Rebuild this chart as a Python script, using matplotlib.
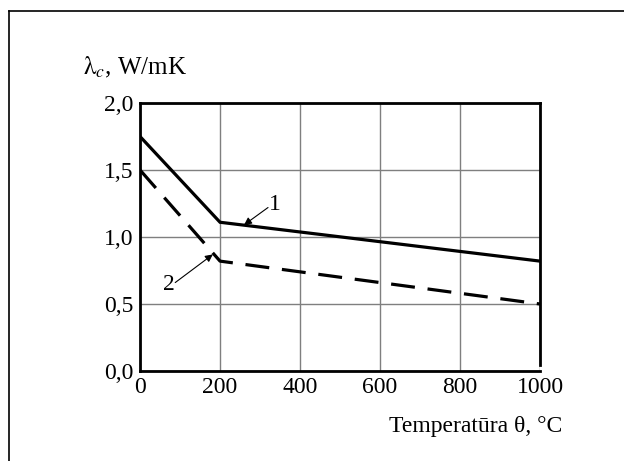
import matplotlib
matplotlib.use("Agg")
import matplotlib.pyplot as plt
from matplotlib.lines import Line2D

# thermal conductivity vs temperature, two bilinear curves
temp = [0, 200, 1000]
curve1 = [1.75, 1.11, 0.82]
curve2 = [1.50, 0.82, 0.50]

x_ticks = [0, 200, 400, 600, 800, 1000]
y_ticks = [0.0, 0.5, 1.0, 1.5, 2.0]
y_tick_labels = ["0,0", "0,5", "1,0", "1,5", "2,0"]

plt.rcParams["font.family"] = ["Liberation Serif", "DejaVu Serif"]
plt.rcParams["mathtext.fontset"] = "stix"

fig = plt.figure(figsize=(6.24, 4.61), dpi=100)
ax = fig.add_axes([0.2244, 0.1952, 0.641, 0.5814])

ax.plot(temp, curve1, color="black", lw=2.3, solid_joinstyle="miter", zorder=3)
ax.plot(temp, curve2, color="black", lw=2.3, dashes=(7.5, 4), zorder=3)

ax.set_xlim(0, 1000)
ax.set_ylim(0, 2.0)
ax.set_xticks(x_ticks)
ax.set_xticklabels([str(t) for t in x_ticks])
ax.set_yticks(y_ticks)
ax.set_yticklabels(y_tick_labels)
ax.tick_params(length=0, labelsize=17, colors="black")
ax.tick_params(axis="x", pad=4)
ax.tick_params(axis="y", pad=5)

ax.grid(True, color="#7f7f7f", lw=1.0)
for side, sp in ax.spines.items():
    sp.set_linewidth(2.0)
    sp.set_color("black")
ax.spines["right"].set_bounds(0.045, 2.0)

# curve labels with pointer arrows
arrow = dict(arrowstyle="-|>", color="black", lw=0.8, mutation_scale=11,
             shrinkA=0, shrinkB=0)
ax.annotate("", xy=(260, 1.09), xytext=(320, 1.22), arrowprops=arrow)
ax.text(337, 1.24, "1", fontsize=17, ha="center", va="center")
ax.annotate("", xy=(182, 0.87), xytext=(88, 0.66), arrowprops=arrow)
ax.text(72, 0.645, "2", fontsize=17, ha="center", va="center")

fig.text(0.133, 0.838, r"$\mathrm{\lambda}_{c}$, W/mK", fontsize=18,
         ha="left", va="baseline")
fig.text(0.9006, 0.063, "Temperatūra θ, °C", fontsize=17,
         ha="right", va="baseline")

# frame around the figure (left and top edges visible)
fig.add_artist(Line2D([0.0152, 0.0152], [0, 0.9768], color="black", lw=1.2,
                      transform=fig.transFigure))
fig.add_artist(Line2D([0.0152, 1.0], [0.9768, 0.9768], color="black", lw=1.2,
                      transform=fig.transFigure))

fig.savefig("out.png", dpi=100)
